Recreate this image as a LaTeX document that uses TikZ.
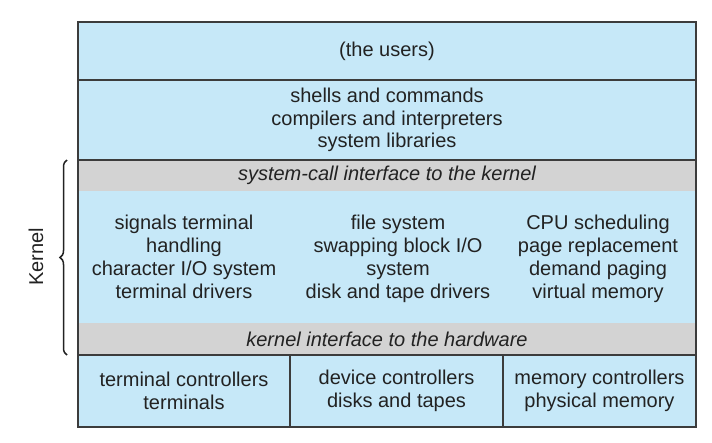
\documentclass[tikz,border=0pt]{standalone}
\usepackage{fontspec}
\setmainfont{Liberation Sans}
\usetikzlibrary{decorations.pathreplacing}
\definecolor{bandblue}{HTML}{C6E8F8}
\definecolor{bandgray}{HTML}{D3D3D3}
\definecolor{txt}{HTML}{222222}
\definecolor{rule}{HTML}{3C3C3C}
\begin{document}
\begin{tikzpicture}[x=1pt,y=-1pt,
  band/.style={anchor=north west,inner sep=0pt,outer sep=0pt,minimum width=#1,draw=none},
  bluefill/.style={fill=bandblue},
  grayfill/.style={fill=bandgray},
  lbl/.style={text=txt,font=\fontsize{20}{22.8}\selectfont,align=center,inner sep=0pt},
  ilbl/.style={lbl,font=\fontsize{20}{22.8}\selectfont\itshape},
  sep/.style={draw=rule,line width=1.3pt}]
\useasboundingbox (0,0) rectangle (712,442);
% bands
\node[band=618pt,minimum height=58pt,bluefill] (users) at (78,22) {};
\node[band=618pt,minimum height=80pt,bluefill] (shells) at (78,80) {};
\node[band=618pt,minimum height=31pt,grayfill] (syscall) at (78,160) {};
\node[band=618pt,minimum height=132pt,bluefill] (kbody) at (78,191) {};
\node[band=618pt,minimum height=32pt,grayfill] (kint) at (78,323) {};
\node[band=212pt,minimum height=72pt,bluefill] (term) at (78,355) {};
\node[band=213pt,minimum height=72pt,bluefill] (dev) at (290,355) {};
\node[band=193pt,minimum height=72pt,bluefill] (mem) at (503,355) {};
% separators
\draw[sep] (users.south west) -- (users.south east);
\draw[sep] (shells.south west) -- (shells.south east);
\draw[sep] (kint.south west) -- (kint.south east);
\draw[sep] (term.north east) -- (term.south east);
\draw[sep] (dev.north east) -- (dev.south east);
\draw[draw=rule,line width=1.5pt] (users.north west) rectangle (mem.south east);
% texts
\node[lbl] (tusers) at (users.center) {(the users)};
\node[lbl] (tshells) at (shells.center) {shells and commands\\compilers and interpreters\\system libraries};
\node[ilbl] (tsys) at (syscall.center) {system-call interface to the kernel};
\node[lbl,anchor=north] (tk1) at (184,215) {signals terminal\\handling\\character I/O system\\terminal drivers};
\node[lbl,anchor=north] (tk2) at (398,215) {file system\\swapping block I/O\\system\\disk and tape drivers};
\node[lbl,anchor=north] (tk3) at (598,215) {CPU scheduling\\page replacement\\demand paging\\virtual memory};
\node[ilbl] (tint) at (kint.center) {kernel interface to the hardware};
\node[lbl] (tterm) at (term.center) {terminal controllers\\terminals};
\node[lbl] (tdev) at (dev.center) {device controllers\\disks and tapes};
\node[lbl] (tmem) at (mem.center) {memory controllers\\physical memory};
% kernel brace
\coordinate (btop) at (67,160);
\coordinate (bbot) at (67,355);
\draw[txt,line width=1.5pt,decorate,decoration={brace,amplitude=7pt,mirror}] (btop) -- (bbot);
\node[lbl,rotate=90] (kernel) at (36,257) {Kernel};
\end{tikzpicture}
\end{document}
